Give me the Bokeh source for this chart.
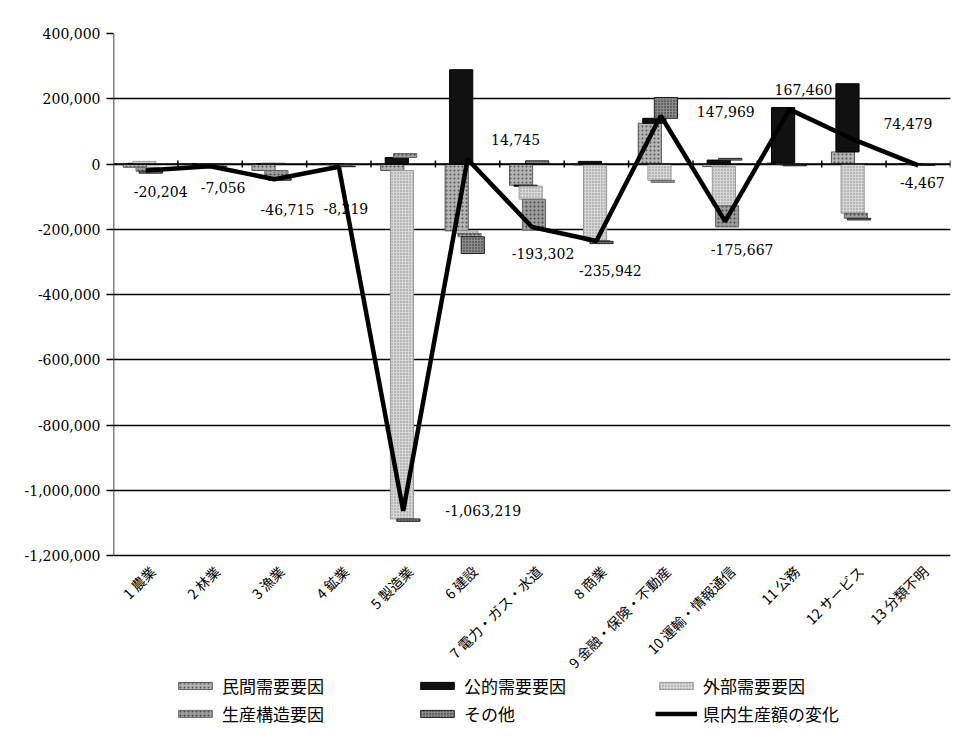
import math
from bokeh.plotting import figure
from bokeh.models import (ColumnDataSource, FixedTicker, NumeralTickFormatter,
                          Legend, LegendItem, Range1d)
from bokeh.core.properties import value
from bokeh.embed import file_html
from bokeh.resources import INLINE

# ---------------- data ----------------
categories = ["1 農業", "2 林業", "3 漁業", "4 鉱業", "5 製造業", "6 建設",
              "7 電力・ガス・水道", "8 商業", "9 金融・保険・不動産",
              "10 運輸・情報通信", "11 公務", "12 サービス", "13 分類不明"]
series_names = ["民間需要要因", "公的需要要因", "外部需要要因", "生産構造要因", "その他"]
line_name = "県内生産額の変化"
private_demand = [-10000, -3000, -20000, -2000, -20000, -205000, -65000, -3000, 125000, -8000, 3000, 37000, -1000]
public_demand = [2000, 500, 1000, 0, 20000, 289000, -3000, 8000, 15000, 12000, 170000, 209000, 0]
external_demand = [6000, 1000, 2000, -1000, -1068000, -8000, -40000, -232000, -50000, -120000, -2000, -151000, -500]
structure = [-12000, -4000, -22000, -4000, 12000, -10000, -95000, -2000, -6000, -65000, -1000, -15521, -1000]
other = [-6204, -1556, -7715, -1219, -7219, -51255, 9698, -6942, 63969, 5333, -2540, -5000, -1967]
total_change = [-20204, -7056, -46715, -8219, -1063219, 14745, -193302, -235942, 147969, -175667, 167460, 74479, -4467]
y_ticks = [400000, 200000, 0, -200000, -400000, -600000, -800000, -1000000, -1200000]
y_max, y_min = 400000, -1200000

# ---------------- styles / layout (not data) ----------------
series_offsets = [-0.17, -0.10, -0.02, 0.03, 0.08]
bar_width = 0.36
series_styles = [
    dict(fill_color="#b4b4b4", hatch_pattern="dot", hatch_color="#555555", hatch_scale=4, line_color="#555555"),
    dict(fill_color="#111111", line_color="#000000"),
    dict(fill_color="#d6d6d6", hatch_pattern="dot", hatch_color="#8a8a8a", hatch_scale=3, line_color="#9a9a9a"),
    dict(fill_color="#9c9c9c", hatch_pattern="dot", hatch_color="#444444", hatch_scale=4, line_color="#666666"),
    dict(fill_color="#8a8a8a", hatch_pattern="dot", hatch_color="#2a2a2a", hatch_scale=3, line_color="#222222"),
]
label_dx = [15, 13, 13, 7, 80, 48, 11, 14, 65, 17, 14, 54, 4]
label_dy = [21, 21, 30, 42, 0, -20, 26, 30, -4, 28, -20, -16, 17]

serif = "DejaVu Serif"
gothic = "Noto Sans CJK JP"

W, H = 959, 727
LEFT, TOP, RIGHT = 113, 33, 9
AXIS_PX = 522                      # pixel height of the value axis (400,000 .. -1,200,000)
frame_h = H - TOP                  # frame reaches the bottom so the legend can sit inside it
y_start = y_max - (y_max - y_min) * frame_h / AXIS_PX

n = len(categories)
xs = list(range(1, n + 1))

p = figure(width=W, height=H, output_backend="svg", toolbar_location=None,
           x_range=Range1d(0.5, n + 0.5), y_range=Range1d(y_start, y_max),
           min_border_left=LEFT, min_border_right=RIGHT, min_border_top=TOP, min_border_bottom=0,
           x_axis_location=None)
p.outline_line_color = None
p.background_fill_color = "white"
p.border_fill_color = "white"

# stacked bars (positive up, negative down)
all_series = [private_demand, public_demand, external_demand, structure, other]
pos_cum = [0.0] * n
neg_cum = [0.0] * n
renderers = []
for s, vals in enumerate(all_series):
    bottoms, tops = [], []
    for i, v in enumerate(vals):
        if v >= 0:
            b, t = pos_cum[i], pos_cum[i] + v
            pos_cum[i] = t
        else:
            b, t = neg_cum[i] + v, neg_cum[i]
            neg_cum[i] = b
        bottoms.append(b)
        tops.append(t)
    src = ColumnDataSource(dict(x=[x + series_offsets[s] for x in xs], bottom=bottoms, top=tops))
    r = p.vbar(x="x", bottom="bottom", top="top", width=bar_width, source=src,
               line_width=1, **series_styles[s])
    renderers.append(r)

# value-axis line (only over the value range) + zero line + category separator ticks
p.segment(x0=[0.5], x1=[0.5], y0=[y_min], y1=[y_max], line_color="black", line_width=1.5)
p.segment(x0=[0.5], x1=[n + 0.5], y0=[0], y1=[0], line_color="black", line_width=1.6)
bounds = [k + 0.5 for k in range(1, n + 1)]
p.segment(x0=bounds, x1=bounds, y0=[-11000] * len(bounds), y1=[11000] * len(bounds),
          line_color="black", line_width=1.5)

# total change line
line_r = p.line(x=xs, y=total_change, line_color="black", line_width=4.5)

# data labels
lab_src = ColumnDataSource(dict(x=xs, y=total_change,
                                text=["{:,}".format(v) for v in total_change],
                                dx=label_dx, dy=label_dy))
p.text(x="x", y="y", text="text", x_offset="dx", y_offset="dy", source=lab_src,
       text_font=value(serif), text_font_size="14px", text_color="black",
       text_align="center", text_baseline="middle")

# category labels (rotated 45 degrees, ending under each category)
p.text(x=xs, y=[y_min] * n, text=categories, angle=math.pi / 4,
       x_offset=7, y_offset=13, text_font=value(gothic), text_font_size="14px",
       text_color="black", text_align="right", text_baseline="middle")

# y axis
p.yaxis.ticker = FixedTicker(ticks=y_ticks)
p.yaxis.formatter = NumeralTickFormatter(format="0,0")
p.yaxis.major_label_text_font = serif
p.yaxis.major_label_text_font_size = "14px"
p.yaxis.major_label_text_color = "black"
p.yaxis.axis_line_color = None
p.yaxis.major_tick_line_color = "black"
p.yaxis.major_tick_line_width = 1.5
p.yaxis.major_tick_out = 7
p.yaxis.major_tick_in = 0
p.yaxis.minor_tick_line_color = None
p.yaxis.major_label_standoff = 6

p.xgrid.grid_line_color = None
p.ygrid.ticker = FixedTicker(ticks=y_ticks)
p.ygrid.grid_line_color = "black"
p.ygrid.grid_line_width = 1.3

# legends: three columns of two rows each, at the bottom of the frame
def make_legend(items, loc):
    lg = Legend(items=items, location=loc, orientation="vertical",
                glyph_width=42, glyph_height=9, label_standoff=6, spacing=3,
                padding=0, margin=0, border_line_color=None, background_fill_alpha=0,
                label_text_font=gothic, label_text_font_size="17px", label_text_color="black",
                label_height=20)
    p.add_layout(lg, "center")

make_legend([LegendItem(label=series_names[0], renderers=[renderers[0]]),
             LegendItem(label=series_names[3], renderers=[renderers[3]])], (61, 1))
make_legend([LegendItem(label=series_names[1], renderers=[renderers[1]]),
             LegendItem(label=series_names[4], renderers=[renderers[4]])], (303, 1))
make_legend([LegendItem(label=series_names[2], renderers=[renderers[2]]),
             LegendItem(label=line_name, renderers=[line_r])], (542, 1))

open("out.html", "w").write(file_html(p, INLINE))
